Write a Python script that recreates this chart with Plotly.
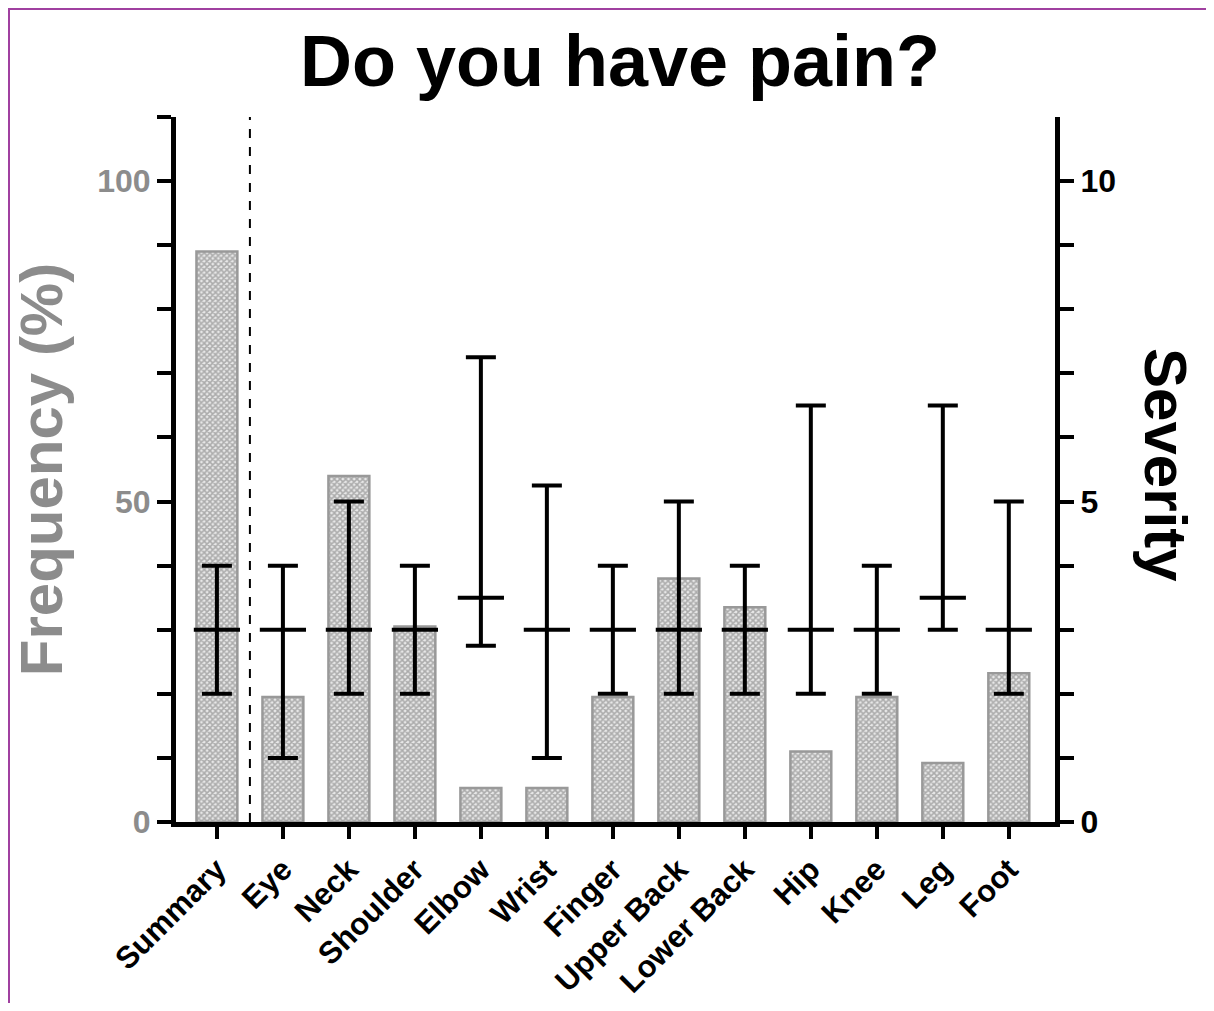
import plotly.graph_objects as go

# ---- data ----
categories = ["Summary", "Eye", "Neck", "Shoulder", "Elbow", "Wrist", "Finger",
              "Upper Back", "Lower Back", "Hip", "Knee", "Leg", "Foot"]
frequency = [89, 19.5, 54, 30.5, 5.3, 5.3, 19.5, 38, 33.5, 11, 19.5, 9.2, 23.2]
sev_median = [3, 3, 3, 3, 3.5, 3, 3, 3, 3, 3, 3, 3.5, 3]
sev_min = [2, 1, 2, 2, 2.75, 1, 2, 2, 2, 2, 2, 3, 2]
sev_max = [4, 4, 5, 4, 7.25, 5.25, 4, 5, 4, 6.5, 4, 6.5, 5]
left_ticks = [0, 50, 100]
right_ticks = [0, 5, 10]

x = list(range(len(categories)))

# page has an 8px body margin: work in page pixels, convert to figure pixels
OFF = 8
W, H = 1214 - 2 * OFF, 1011 - 2 * OFF
PL, PR, PT, PB = 176, 1055, 117, 822          # plot area in page pixels
ML, MR, MT, MB = PL - OFF, W - (PR - OFF), PT - OFF, H - (PB - OFF)
pw, ph = PR - PL, PB - PT


def px(pagex):
    return (pagex - PL) / pw


def py(pagey):
    return (PB - pagey) / ph


FONT = "Liberation Sans, Arial, Helvetica, sans-serif"
GRAY = "#8c8c8c"

fig = go.Figure()

fig.add_trace(go.Bar(
    x=x, y=frequency, width=0.62,
    marker=dict(color="#e0e0e0",
                line=dict(color="#999999", width=2.5),
                pattern=dict(shape="x", size=4, fgcolor="#6e6e6e",
                             bgcolor="#e8e8e8", solidity=0.62)),
    showlegend=False, hoverinfo="skip",
))

err_plus = [mx - md for mx, md in zip(sev_max, sev_median)]
err_minus = [md - mn for md, mn in zip(sev_median, sev_min)]
fig.add_trace(go.Scatter(
    x=x, y=sev_median, yaxis="y2", mode="markers",
    marker=dict(symbol="line-ew", size=33, color="black",
                line=dict(color="black", width=4)),
    error_y=dict(type="data", symmetric=False, array=err_plus,
                 arrayminus=err_minus, width=15, thickness=4, color="black"),
    showlegend=False, hoverinfo="skip",
))

fig.update_layout(
    width=W, height=H, autosize=False,
    margin=dict(l=ML, r=MR, t=MT, b=MB, pad=0, autoexpand=False),
    paper_bgcolor="white", plot_bgcolor="white",
    font=dict(family=FONT, color="black"),
    title=dict(text="<b>Do you have pain?</b>", x=(620 - OFF) / W, xanchor="center",
               y=1 - (61 - OFF) / H, yanchor="middle",
               font=dict(size=72, family=FONT, color="black")),
    xaxis=dict(
        range=[-0.62, 12.7], tickmode="array", tickvals=x,
        ticktext=["<b>%s</b>" % c for c in categories],
        tickangle=-45, tickfont=dict(size=31, color="black", family=FONT),
        ticks="outside", ticklen=12, tickwidth=3.5, tickcolor="black",
        showline=True, linecolor="black", linewidth=5, automargin=False,
        showgrid=False, zeroline=False, fixedrange=True,
    ),
    yaxis=dict(
        range=[0, 110], tickmode="array", tickvals=left_ticks,
        ticktext=["<b>%d</b>" % v for v in left_ticks],
        tickfont=dict(size=32, color=GRAY, family=FONT),
        ticks="outside", ticklen=14, tickwidth=4, tickcolor="black",
        minor=dict(dtick=10, ticks="outside", ticklen=14, tickwidth=4,
                   tickcolor="black", showgrid=False),
        showline=True, linecolor="black", linewidth=5, automargin=False,
        showgrid=False, zeroline=False,
        title=dict(text="<b>Frequency (%)</b>", standoff=22,
                   font=dict(size=60, color=GRAY, family=FONT)),
    ),
    yaxis2=dict(
        range=[0, 11], overlaying="y", side="right", tickmode="array",
        tickvals=list(range(0, 11)),
        ticktext=["<b>%d</b>" % v if v in right_ticks else "" for v in range(0, 11)],
        tickfont=dict(size=32, color="black", family=FONT),
        ticks="outside", ticklen=14, tickwidth=4, tickcolor="black",
        showline=True, linecolor="black", linewidth=5, automargin=False,
        showgrid=False, zeroline=False,
    ),
    annotations=[dict(
        text="<b>Severity</b>", textangle=90, xref="paper", yref="paper",
        x=px(1166), y=py(465), xanchor="center", yanchor="middle",
        showarrow=False, font=dict(size=60, color="black", family=FONT),
    )],
    shapes=[
        dict(type="line", xref="x", yref="y domain", x0=0.5, x1=0.5, y0=0, y1=1,
             line=dict(color="black", width=2, dash="dash")),
        # thin purple frame (top and left) of the original figure
        dict(type="line", xref="paper", yref="paper",
             x0=px(OFF), x1=px(1214 - OFF), y0=py(9), y1=py(9),
             line=dict(color="#a040a0", width=2)),
        dict(type="line", xref="paper", yref="paper",
             x0=px(OFF + 1), x1=px(OFF + 1), y0=py(9), y1=py(1011 - OFF),
             line=dict(color="#a040a0", width=2)),
    ],
)

fig.write_html("out.html")
